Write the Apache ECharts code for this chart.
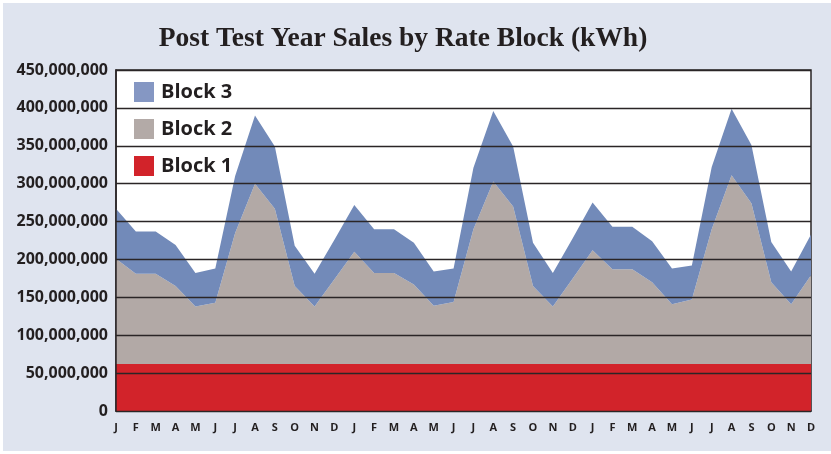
<!DOCTYPE html>
<html>
<head>
<meta charset="utf-8">
<script src="https://cdn.jsdelivr.net/npm/echarts@6/dist/echarts.min.js"></script>
<style>
  html, body { margin: 0; padding: 0; background: #fff; }
  #wrap { position: relative; width: 831px; height: 454px; background: #fff; }
  #chart { position: absolute; left: 3px; top: 3px; width: 828px; height: 448px; }
</style>
</head>
<body>
<div id="wrap"><div id="chart"></div></div>
<script>
var months = ['J', 'F', 'M', 'A', 'M', 'J', 'J', 'A', 'S', 'O', 'N', 'D',
  'J', 'F', 'M', 'A', 'M', 'J', 'J', 'A', 'S', 'O', 'N', 'D',
  'J', 'F', 'M', 'A', 'M', 'J', 'J', 'A', 'S', 'O', 'N', 'D'];

// kWh per month, each block on its own (stacked in the chart)
var block1 = [62e6, 62e6, 62e6, 62e6, 62e6, 62e6, 62e6, 62e6, 62e6, 62e6, 62e6, 62e6,
  62e6, 62e6, 62e6, 62e6, 62e6, 62e6, 62e6, 62e6, 62e6, 62e6, 62e6, 62e6,
  62e6, 62e6, 62e6, 62e6, 62e6, 62e6, 62e6, 62e6, 62e6, 62e6, 62e6, 62e6];
var block2 = [139e6, 119e6, 119e6, 103e6, 76e6, 81e6, 173e6, 238e6, 205e6, 103e6, 76e6, 112e6,
  148e6, 120e6, 120e6, 105e6, 77e6, 82e6, 178e6, 241e6, 208e6, 103e6, 76e6, 113e6,
  150e6, 125e6, 125e6, 108e6, 79e6, 85e6, 178e6, 249e6, 212e6, 108e6, 79e6, 117e6];
var block3 = [66e6, 56e6, 56e6, 54e6, 44e6, 45e6, 75e6, 90e6, 82e6, 53e6, 43e6, 52e6,
  62e6, 58e6, 58e6, 55e6, 45e6, 44e6, 81e6, 93e6, 79e6, 57e6, 44e6, 53e6,
  63e6, 56e6, 56e6, 54e6, 47e6, 45e6, 82e6, 88e6, 77e6, 53e6, 43e6, 54e6];

var yTicks = [0, 50e6, 100e6, 150e6, 200e6, 250e6, 300e6, 350e6, 400e6, 450e6];

var txt = '#231f20';

function areaSeries(name, data, color) {
  return {
    name: name,
    type: 'line',
    stack: 'total',
    data: data,
    showSymbol: false,
    symbol: 'none',
    lineStyle: { width: 0 },
    itemStyle: { color: color },
    areaStyle: { color: color, opacity: 1 },
    emphasis: { disabled: true }
  };
}

var chart = echarts.init(document.getElementById('chart'), null, { renderer: 'canvas' });

var option = {
  backgroundColor: '#dfe4ef',
  animation: false,
  title: {
    text: 'Post Test Year Sales by Rate Block (kWh)',
    left: 395,
    top: 17,
    textAlign: 'center',
    textStyle: {
      fontFamily: 'Liberation Serif',
      fontWeight: 'bold',
      fontSize: 27.5,
      color: txt
    }
  },
  legend: {
    orient: 'vertical',
    left: 126,
    top: 74,
    itemWidth: 20,
    itemHeight: 20,
    itemGap: 17,
    icon: 'rect',
    data: [
      { name: 'Block 3', itemStyle: { color: '#8597c3' } },
      { name: 'Block 2', itemStyle: { color: '#b3aaa7' } },
      { name: 'Block 1', itemStyle: { color: '#d2232a' } }
    ],
    textStyle: {
      fontFamily: 'Open Sans',
      fontWeight: 'bold',
      fontSize: 20,
      color: txt,
      padding: [0, 0, 0, 2]
    }
  },
  grid: {
    left: 113,
    right: 20,
    top: 67,
    bottom: 40,
    show: true,
    backgroundColor: '#fff',
    borderColor: '#2a2526',
    borderWidth: 1.5
  },
  xAxis: {
    type: 'category',
    data: months,
    boundaryGap: false,
    axisTick: { show: false },
    axisLine: { show: true, lineStyle: { color: '#2a2526', width: 1.5 } },
    axisLabel: {
      interval: 0,
      margin: 11,
      fontFamily: 'Open Sans',
      fontWeight: 'bold',
      fontSize: 11,
      color: txt
    },
    splitLine: { show: false }
  },
  yAxis: {
    type: 'value',
    min: yTicks[0],
    max: yTicks[yTicks.length - 1],
    interval: 50e6,
    z: 10,
    axisLine: { show: true, lineStyle: { color: '#2a2526', width: 1.5 } },
    axisTick: { show: false },
    axisLabel: {
      margin: 8,
      fontFamily: 'Open Sans',
      fontWeight: 'bold',
      fontSize: 16,
      color: txt,
      formatter: function (v) { return v.toLocaleString('en-US'); }
    },
    splitLine: { show: true, lineStyle: { color: '#2a2526', width: 1.4 } }
  },
  series: [
    areaSeries('Block 1', block1, '#d2232a'),
    areaSeries('Block 2', block2, '#b2a9a6'),
    areaSeries('Block 3', block3, '#728ab9')
  ]
};

chart.setOption(option);
</script>
</body>
</html>
